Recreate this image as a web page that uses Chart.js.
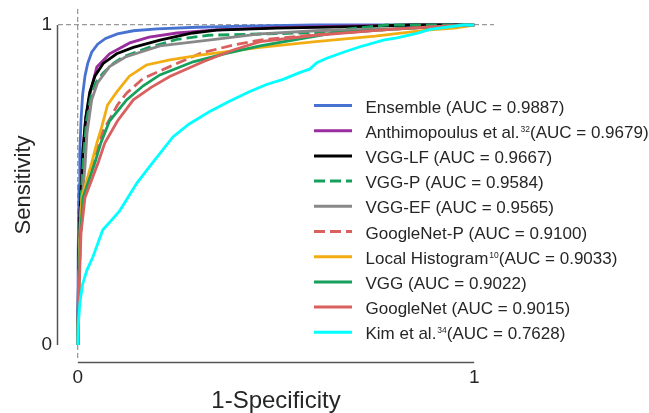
<!DOCTYPE html>
<html>
<head>
<meta charset="utf-8">
<script src="https://cdn.jsdelivr.net/npm/chart.js@4.4.0/dist/chart.umd.min.js"></script>
<style>
  html, body { margin: 0; padding: 0; background: #fff; }
</style>
</head>
<body>
<canvas id="roc" width="649" height="413"></canvas>
<script>
// ROC curves, points are [1-specificity, sensitivity]
var ensemble = [[0,0],[0.001,0.3],[0.003,0.5],[0.005,0.6],[0.008,0.7],[0.012,0.78],[0.018,0.84],[0.025,0.88],[0.035,0.915],[0.05,0.94],[0.07,0.958],[0.1,0.972],[0.14,0.982],[0.2,0.988],[0.3,0.993],[0.45,0.997],[0.6,1],[1,1]];
var anthimopoulus = [[0,0],[0.002,0.25],[0.005,0.4],[0.008,0.48],[0.013,0.61],[0.02,0.71],[0.03,0.78],[0.04,0.83],[0.048,0.869],[0.08,0.91],[0.131,0.944],[0.18,0.962],[0.25,0.975],[0.35,0.985],[0.5,0.992],[0.7,0.997],[0.85,1],[1,1]];
var vggLf = [[0,0],[0.002,0.25],[0.005,0.4],[0.008,0.475],[0.013,0.61],[0.02,0.71],[0.03,0.79],[0.043,0.84],[0.064,0.88],[0.098,0.91],[0.14,0.93],[0.207,0.953],[0.29,0.975],[0.35,0.984],[0.5,0.99],[0.7,0.995],[0.84,1],[1,1]];
var vggP = [[0,0],[0.003,0.25],[0.006,0.4],[0.01,0.5],[0.015,0.6],[0.022,0.7],[0.032,0.77],[0.045,0.82],[0.064,0.85],[0.09,0.88],[0.114,0.9],[0.18,0.93],[0.25,0.955],[0.33,0.968],[0.6,0.976],[0.7,0.99],[0.78,1],[1,1]];
var vggEf = [[0,0],[0.002,0.2],[0.005,0.35],[0.01,0.45],[0.018,0.556],[0.023,0.66],[0.035,0.766],[0.05,0.82],[0.08,0.87],[0.12,0.9],[0.207,0.935],[0.33,0.953],[0.46,0.972],[0.6,0.982],[0.85,0.99],[0.98,1],[1,1]];
var googleNetP = [[0,0],[0.003,0.2],[0.007,0.35],[0.014,0.46],[0.035,0.556],[0.06,0.66],[0.1,0.75],[0.123,0.787],[0.165,0.833],[0.232,0.87],[0.308,0.911],[0.392,0.9375],[0.46,0.953],[0.6,0.97],[0.77,0.985],[0.9,0.995],[1,1]];
var localHist = [[0,0],[0.003,0.2],[0.006,0.35],[0.01,0.46],[0.035,0.569],[0.048,0.631],[0.06,0.68],[0.075,0.75],[0.098,0.79],[0.13,0.84],[0.173,0.875],[0.232,0.891],[0.308,0.906],[0.46,0.93],[0.6,0.948],[0.75,0.965],[0.88,0.984],[0.95,0.99],[1,1]];
var vgg = [[0,0],[0.003,0.2],[0.007,0.35],[0.013,0.46],[0.043,0.569],[0.058,0.631],[0.08,0.7],[0.123,0.766],[0.165,0.81],[0.207,0.844],[0.291,0.885],[0.375,0.911],[0.46,0.935],[0.644,0.975],[0.77,0.985],[0.9,0.995],[1,1]];
var googleNet = [[0,0],[0.004,0.2],[0.008,0.35],[0.018,0.46],[0.051,0.569],[0.068,0.631],[0.1,0.7],[0.14,0.766],[0.185,0.805],[0.232,0.839],[0.316,0.885],[0.392,0.922],[0.46,0.948],[0.6,0.968],[0.77,0.985],[0.9,0.995],[1,1]];
var kim = [[0,0],[0.001,0.06],[0.005,0.13],[0.012,0.19],[0.023,0.234],[0.038,0.275],[0.063,0.36],[0.085,0.39],[0.106,0.42],[0.149,0.506],[0.18,0.556],[0.24,0.65],[0.28,0.69],[0.333,0.73],[0.38,0.76],[0.434,0.792],[0.476,0.814],[0.518,0.83],[0.561,0.852],[0.585,0.862],[0.603,0.882],[0.628,0.896],[0.67,0.915],[0.712,0.932],[0.771,0.953],[0.805,0.96],[0.855,0.974],[0.889,0.986],[0.973,1],[1,1]];

var names = ["Ensemble", "Anthimopoulus et al.", "VGG-LF", "VGG-P", "VGG-EF", "GoogleNet-P", "Local Histogram", "VGG", "GoogleNet", "Kim et al."];
var refs = ["", "32", "", "", "", "", "10", "", "", "34"];
var aucs = ["0.9887", "0.9679", "0.9667", "0.9584", "0.9565", "0.9100", "0.9033", "0.9022", "0.9015", "0.7628"];
var curves = [ensemble, anthimopoulus, vggLf, vggP, vggEf, googleNetP, localHist, vgg, googleNet, kim];
var colors = ["#4872d1", "#9a2d9e", "#000000", "#16a05c", "#888888", "#d9605e", "#f2ad12", "#16a05c", "#d9605e", "#00ffff"];
var dashed = [false, false, false, true, false, true, false, false, false, false];
var tickValues = [0, 1];

var FONT = '"Liberation Sans", Arial, sans-serif';
var TEXT = '#262626';

/**
 * Spines trimmed to the 0..1 range, like seaborn despine(trim=True)
 */
var spines = {
    id: 'spines',
    afterDraw: function(chart) {
        var ctx = chart.ctx, a = chart.chartArea;
        var xs = chart.scales.x, ys = chart.scales.y;
        ctx.save();
        ctx.strokeStyle = '#555';
        ctx.lineWidth = 1.5;
        ctx.beginPath();
        ctx.moveTo(a.left - 0.5, ys.getPixelForValue(0));
        ctx.lineTo(a.left - 0.5, ys.getPixelForValue(1));
        ctx.moveTo(xs.getPixelForValue(0), a.bottom + 1.5);
        ctx.lineTo(xs.getPixelForValue(1), a.bottom + 1.5);
        ctx.stroke();
        ctx.restore();
    }
};

/**
 * Legend drawn inside the plot, with small superscript references
 */
var legendBox = {
    id: 'legendBox',
    afterDraw: function(chart, args, opts) {
        var ctx = chart.ctx;
        chart.data.datasets.forEach(function(ds, i) {
            var y = opts.top + i * opts.rowGap;
            ctx.save();
            ctx.strokeStyle = ds.borderColor;
            ctx.lineWidth = 3;
            ctx.setLineDash(ds.borderDash || []);
            ctx.beginPath();
            ctx.moveTo(opts.left, y);
            ctx.lineTo(opts.left + opts.sampleWidth, y);
            ctx.stroke();
            ctx.setLineDash([]);

            ctx.fillStyle = TEXT;
            ctx.textBaseline = 'alphabetic';
            ctx.textAlign = 'left';
            var base = y + 7;
            var x = opts.left + opts.sampleWidth + opts.textGap;
            ctx.font = '17px ' + FONT;
            ctx.fillText(names[i], x, base);
            x += ctx.measureText(names[i]).width;
            var rest = ' (AUC = ' + aucs[i] + ')';
            if (refs[i]) {
                x += 1;
                ctx.font = '8.5px ' + FONT;
                ctx.fillText(refs[i], x, base - 6);
                x += ctx.measureText(refs[i]).width;
                rest = '(AUC = ' + aucs[i] + ')';
            }
            ctx.font = '17px ' + FONT;
            ctx.fillText(rest, x, base);
            ctx.restore();
        });
    }
};

// keep the plot box fixed: no extra room for half tick labels
function noPad(scale) {
    scale.paddingTop = 0;
    scale.paddingBottom = 0;
    scale.paddingLeft = 0;
    scale.paddingRight = 0;
}

var datasets = curves.map(function(pts, i) {
    return {
        label: names[i],
        data: pts.map(function(p) { return {x: p[0], y: p[1]}; }),
        borderColor: colors[i],
        borderWidth: 2.8,
        borderDash: dashed[i] ? [11, 5] : [],
        pointRadius: 0,
        tension: 0,
        fill: false,
        order: curves.length - i
    };
});

var ctx = document.getElementById("roc").getContext("2d");
new Chart(ctx, {
    type: 'line',
    data: {datasets: datasets},
    options: {
        responsive: false,
        animation: false,
        layout: {padding: {top: 9, right: 155, bottom: 0, left: 0}},
        plugins: {
            legend: {display: false},
            tooltip: {enabled: false},
            legendBox: {left: 314, top: 105.5, rowGap: 25.2, sampleWidth: 38, textGap: 13.5}
        },
        scales: {
            x: {
                type: 'linear',
                min: -0.05,
                max: 1.05,
                afterBuildTicks: function(scale) {
                    scale.ticks = tickValues.map(function(v) { return {value: v}; });
                },
                afterFit: function(scale) { scale.height = 52; noPad(scale); },
                ticks: {
                    color: TEXT,
                    font: {family: FONT, size: 19},
                    padding: 5,
                    maxRotation: 0,
                    callback: function(v) { return v; }
                },
                grid: {
                    drawTicks: false,
                    lineWidth: 1.3,
                    color: function(c) { return c.tick && c.tick.value === 0 ? '#999' : 'rgba(0,0,0,0)'; }
                },
                border: {display: false, dash: [5, 3]},
                title: {
                    display: true,
                    text: '1-Specificity',
                    color: TEXT,
                    font: {family: FONT, size: 24, lineHeight: 1},
                    padding: {top: 0, bottom: 0}
                }
            },
            y: {
                type: 'linear',
                min: -0.05,
                max: 1.05,
                afterBuildTicks: function(scale) {
                    scale.ticks = tickValues.map(function(v) { return {value: v}; });
                },
                afterFit: function(scale) { scale.width = 58; noPad(scale); },
                ticks: {
                    color: TEXT,
                    font: {family: FONT, size: 19},
                    padding: 6,
                    callback: function(v) { return v; }
                },
                grid: {
                    drawTicks: false,
                    lineWidth: 1.3,
                    color: function(c) { return c.tick && c.tick.value === 1 ? '#999' : 'rgba(0,0,0,0)'; }
                },
                border: {display: false, dash: [5, 3]},
                title: {
                    display: true,
                    text: 'Sensitivity',
                    color: TEXT,
                    font: {family: FONT, size: 22, lineHeight: 1},
                    padding: {top: 13, bottom: 0}
                }
            }
        }
    },
    plugins: [spines, legendBox]
});
</script>
</body>
</html>
